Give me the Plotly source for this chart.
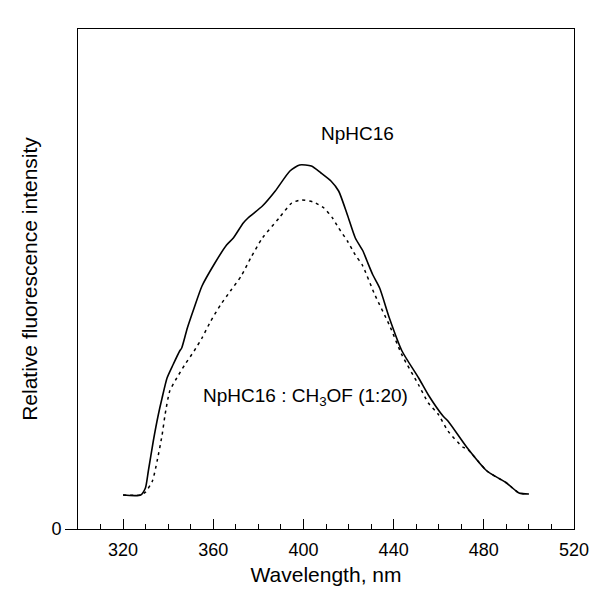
import plotly.graph_objects as go

# NpHC16 (solid)
wl_a = [320.0, 327.8, 329.9, 331.2, 333.4, 335.6, 337.3, 339.5, 342.1, 345.1, 346.0, 348.5,
        351.5, 355.0, 360.2, 365.9, 368.9, 373.3, 375.4, 381.8, 387.5, 394.0, 398.3, 403.5,
        407.8, 412.2, 415.6, 419.5, 423.0, 426.4, 428.2, 430.8, 433.8, 438.1, 443.7, 451.1,
        455.4, 461.9, 464.1, 472.7, 481.4, 490.1, 495.6, 500.0]
int_a = [6.8, 6.8, 8.2, 11.6, 17.6, 22.8, 26.2, 30.2, 32.8, 35.6, 36.2, 40.2,
         44.2, 48.6, 52.8, 56.8, 58.2, 61.2, 62.2, 64.6, 67.6, 71.6, 72.8, 72.6,
         71.2, 69.6, 67.6, 62.8, 58.2, 55.6, 53.6, 50.8, 48.2, 42.2, 35.6, 30.2,
         26.8, 22.6, 21.6, 16.2, 11.6, 9.2, 7.2, 7.0]

# NpHC16 : CH3OF (1:20) (dotted)
wl_b = [320.0, 327.8, 330.0, 333.0, 335.1, 337.3, 338.6, 340.7, 343.8, 347.3, 351.5, 355.0,
        358.9, 363.2, 367.6, 372.4, 376.6, 381.8, 389.2, 394.8, 399.1, 404.4, 409.1, 412.9,
        415.6, 419.5, 423.0, 426.1, 431.7, 438.1, 443.7, 451.1, 455.4, 459.7, 464.1, 470.6,
        472.7, 481.4, 490.1, 495.6, 500.0]
int_b = [6.8, 6.8, 7.4, 9.6, 13.6, 18.8, 22.8, 27.6, 30.2, 32.8, 35.6, 38.2,
         41.6, 44.8, 47.6, 50.6, 54.2, 58.2, 62.2, 65.2, 65.8, 65.4, 64.2, 62.2,
         60.2, 57.6, 54.8, 52.8, 46.8, 40.8, 34.8, 28.8, 25.2, 23.0, 19.6, 16.4,
         16.0, 11.6, 9.2, 7.2, 7.0]

x_ticks = [320, 360, 400, 440, 480, 520]

FONT = "Liberation Sans, Arial, sans-serif"

fig = go.Figure()
fig.add_trace(go.Scatter(x=wl_b, y=int_b, mode="lines",
                         line=dict(color="black", width=1.5, dash="3px,4px", shape="spline", smoothing=0.6),
                         showlegend=False))
fig.add_trace(go.Scatter(x=wl_a, y=int_a, mode="lines",
                         line=dict(color="black", width=1.6, shape="spline", smoothing=0.6),
                         showlegend=False))

fig.add_annotation(x=424, y=79.2, text="NpHC16", showarrow=False,
                   font=dict(family=FONT, size=19, color="black"))
fig.add_annotation(x=401, y=26.4, text="NpHC16 : CH<sub>3</sub>OF (1:20)", showarrow=False,
                   font=dict(family=FONT, size=19, color="black"))

fig.update_layout(
    width=597, height=590,
    margin=dict(l=70, r=31, t=21, b=69),
    paper_bgcolor="white", plot_bgcolor="white",
    font=dict(family=FONT, color="black"),
    xaxis=dict(range=[300, 520], tickvals=x_ticks, ticks="inside", ticklen=10,
               tickcolor="black", tickwidth=1, showline=True, linecolor="black",
               linewidth=1, mirror=True, showgrid=False, zeroline=False,
               tickfont=dict(size=18), ticklabelstandoff=4,
               minor=dict(dtick=10, tick0=300, ticks="inside", ticklen=5, tickcolor="black"),
               title=dict(text="Wavelength, nm", font=dict(size=21), standoff=8)),
    yaxis=dict(range=[0, 100], tickvals=[0], ticktext=["0"], ticks="outside", ticklen=12,
               tickcolor="black", showline=True, linecolor="black", linewidth=1,
               mirror=True, showgrid=False, zeroline=False, tickfont=dict(size=18),
               title=dict(text="Relative fluorescence intensity", font=dict(size=21), standoff=8)),
)

fig.write_html("out.html")
